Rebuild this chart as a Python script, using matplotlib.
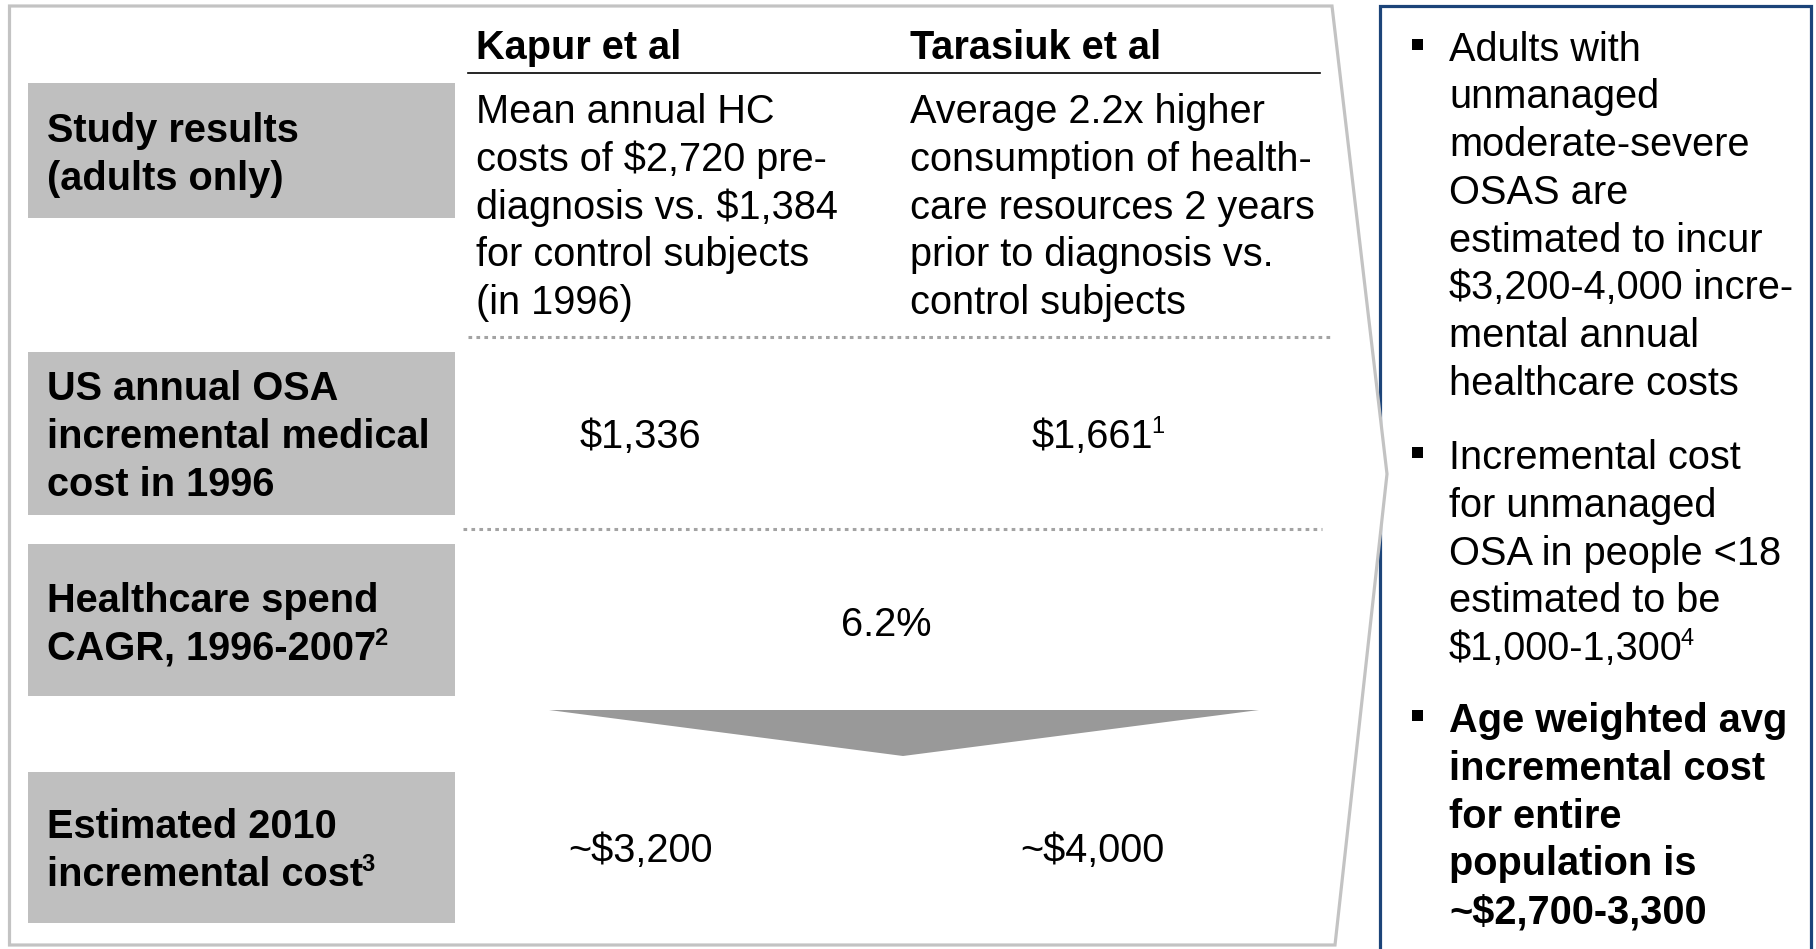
import matplotlib
matplotlib.use('Agg')
import matplotlib.pyplot as plt
from matplotlib.patches import Rectangle, Polygon

plt.rcParams['font.family'] = ['Liberation Sans', 'DejaVu Sans']
plt.rcParams['text.parse_math'] = False

# ── Content ──────────────────────────────────────────────────────────
studies = ["Kapur et al", "Tarasiuk et al"]

row_labels = [["Study results", "(adults only)"],
              ["US annual OSA", "incremental medical", "cost in 1996"],
              ["Healthcare spend", "CAGR, 1996-2007"],
              ["Estimated 2010", "incremental cost"]]
row_label_sups = ["", "", "2", "3"]

study_results = [["Mean annual HC", "costs of $2,720 pre-", "diagnosis vs. $1,384",
                  "for control subjects", "(in 1996)"],
                 ["Average 2.2x higher", "consumption of health-",
                  "care resources 2 years", "prior to diagnosis vs.",
                  "control subjects"]]

cost_1996 = ["$1,336", "$1,661"]
cost_1996_sups = ["", "1"]
cagr = "6.2%"
est_2010 = ["~$3,200", "~$4,000"]

bullets = [["Adults with", "unmanaged", "moderate-severe", "OSAS are",
            "estimated to incur", "$3,200-4,000 incre-", "mental annual",
            "healthcare costs"],
           ["Incremental cost", "for unmanaged", "OSA in people <18",
            "estimated to be", "$1,000-1,300"],
           ["Age weighted avg", "incremental cost", "for entire",
            "population is", "~$2,700-3,300"]]
bullet_sups = ["", "4", ""]
bullet_bold = [False, False, True]

# ── Layout (pixel coordinates) ───────────────────────────────────────
W, H = 1816, 949
FS = 28.6
STEP = 47.8
SUP_FS = 17
GRAY_BOX = "#bfbfbf"
FRAME = "#c3c3c3"
BLUE = "#1c4479"

label_boxes = [(83, 218), (352, 515), (544, 696), (772, 923)]
label_baselines = [142, 400, 612, 838]
col_x = [476, 910]
val_x = [640, 1092]

fig = plt.figure(figsize=(W / 100, H / 100), dpi=100)
ax = fig.add_axes([0, 0, 1, 1])
ax.set_xlim(0, W)
ax.set_ylim(H, 0)
ax.axis("off")
renderer = fig.canvas.get_renderer()
inv = ax.transData.inverted()


def sup_after(t, s, y_base, bold=False):
    bb = t.get_window_extent(renderer=renderer)
    x_end = inv.transform((bb.x1, bb.y0))[0]
    ax.text(x_end - 2, y_base - 15, s, fontsize=SUP_FS, va="baseline",
            ha="left", fontweight="bold" if bold else "normal", zorder=5)


# right-hand summary box (drawn first, callout frame overlaps it)
ax.add_patch(Rectangle((1379.5, 5.5), 431, 980, facecolor="white",
                       edgecolor=BLUE, linewidth=2.3, zorder=1))

# callout frame around the table
ax.add_patch(Polygon([(9.5, 6), (1332, 6), (1387, 474), (1335, 945), (9.5, 945)],
                     closed=True, facecolor="white", edgecolor=FRAME,
                     linewidth=2.3, joinstyle="miter", zorder=2))

# row label boxes
for (y0, y1), lines, sup, yb in zip(label_boxes, row_labels, row_label_sups,
                                      label_baselines):
    ax.add_patch(Rectangle((28, y0), 427, y1 - y0, facecolor=GRAY_BOX,
                           edgecolor="none", zorder=3))
    for i, ln in enumerate(lines):
        t = ax.text(47, yb + i * STEP, ln, fontsize=FS, fontweight="bold",
                    va="baseline", ha="left", zorder=5)
    if sup:
        sup_after(t, sup, yb + (len(lines) - 1) * STEP, bold=True)

# column headers
for x, name in zip(col_x, studies):
    ax.text(x, 59, name, fontsize=FS, fontweight="bold", va="baseline",
            ha="left", zorder=5)
ax.plot([468, 1320], [73, 73], color="black", linewidth=1.2, zorder=4)

# study results
for x, lines in zip(col_x, study_results):
    for i, ln in enumerate(lines):
        ax.text(x, 123 + i * STEP, ln, fontsize=FS, va="baseline",
                ha="left", zorder=5)

# dotted separators
ax.plot([468, 1332], [337, 337], color="#a3a3a3", linewidth=2.2,
        linestyle=(0, (1.2, 1.4)), zorder=4)
ax.plot([463, 1322], [529, 529], color="#a3a3a3", linewidth=2.2,
        linestyle=(0, (1.2, 1.4)), zorder=4)

# 1996 incremental cost
for x, v, s in zip(val_x, cost_1996, cost_1996_sups):
    t = ax.text(x, 448, v, fontsize=FS, va="baseline", ha="center", zorder=5)
    if s:
        sup_after(t, s, 448)

# CAGR
ax.text(886, 636, cagr, fontsize=FS, va="baseline", ha="center", zorder=5)

# arrow
ax.add_patch(Polygon([(549, 710), (1259, 710), (903, 756)], closed=True,
                     facecolor="#999999", edgecolor="none", zorder=3))

# 2010 estimate
for x, v in zip(val_x, est_2010):
    ax.text(x, 862, v, fontsize=FS, va="baseline", ha="center", zorder=5)

# bullets on the right
bullet_starts = [60.5, 469, 732]
for lines, sup, bold, yb in zip(bullets, bullet_sups, bullet_bold, bullet_starts):
    ax.add_patch(Rectangle((1412, yb - 22), 11, 11, facecolor="black",
                           edgecolor="none", zorder=5))
    for i, ln in enumerate(lines):
        t = ax.text(1449, yb + i * STEP, ln, fontsize=FS, va="baseline",
                    ha="left", fontweight="bold" if bold else "normal", zorder=5)
    if sup:
        sup_after(t, sup, yb + (len(lines) - 1) * STEP, bold=bold)

fig.savefig("out.png", dpi=100)
